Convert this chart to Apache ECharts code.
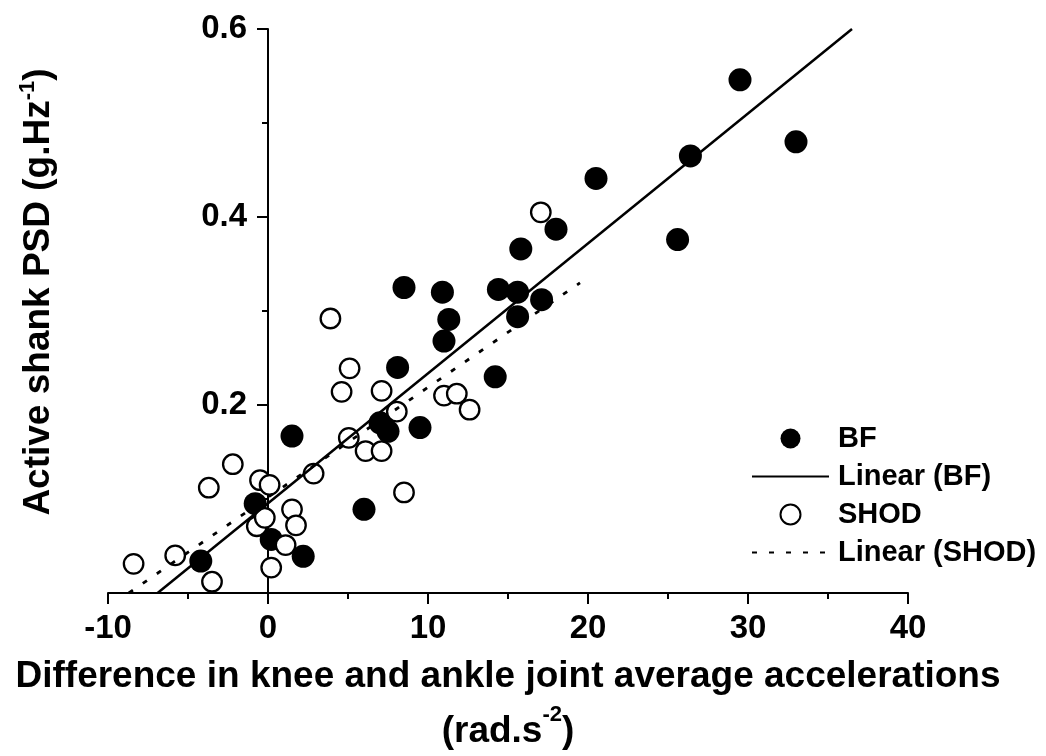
<!DOCTYPE html>
<html>
<head>
<meta charset="utf-8">
<script src="https://cdn.jsdelivr.net/npm/echarts@6/dist/echarts.min.js"></script>
<style>
  html, body { margin: 0; padding: 0; background: #fff; }
  #chart { width: 1046px; height: 756px; }
</style>
</head>
<body>
<div id="chart"></div>
<script>
// BF (barefoot) points - filled circles
const bfX = [-4.2, -0.8, 0.2, 2.2, 1.5, 6.0, 7.0, 7.5, 8.1, 9.5, 8.5, 10.9, 11.3, 11.0, 14.2, 14.4, 15.6, 15.6, 17.1, 15.8, 18.0, 20.5, 25.6, 26.4, 29.5, 33.0];
const bfY = [0.034, 0.095, 0.057, 0.039, 0.167, 0.089, 0.181, 0.172, 0.240, 0.176, 0.325, 0.320, 0.291, 0.268, 0.230, 0.323, 0.320, 0.294, 0.312, 0.366, 0.387, 0.441, 0.376, 0.465, 0.546, 0.480];

// SHOD points - open circles
const shodX = [-8.4, -5.8, -3.5, -3.7, -2.2, -0.5, 0.1, -0.7, -0.2, 1.5, 1.75, 1.1, 0.2, 2.85, 3.9, 4.6, 5.1, 5.05, 6.1, 7.1, 7.1, 8.05, 8.5, 11.0, 11.8, 12.6, 17.05];
const shodY = [0.031, 0.040, 0.012, 0.112, 0.137, 0.120, 0.115, 0.071, 0.080, 0.089, 0.072, 0.051, 0.027, 0.127, 0.292, 0.214, 0.239, 0.165, 0.151, 0.151, 0.215, 0.193, 0.107, 0.210, 0.212, 0.195, 0.405];

// trend lines (end points)
const bfFitX = [-6.9, 36.5];
const bfFitY = [0, 0.6];
const shodFitX = [-8.7, 19.5];
const shodFitY = [0, 0.33];

const FONT = "'Liberation Sans', Arial, sans-serif";
const noSymbol = { color: "rgba(0,0,0,0)", borderColor: "rgba(0,0,0,0)", borderWidth: 0 };

function pairs(xs, ys) {
  return xs.map((x, i) => [x, ys[i]]);
}

const chart = echarts.init(document.getElementById("chart"));
const option = {
  backgroundColor: "#fff",
  animation: false,
  textStyle: { fontFamily: FONT },
  grid: {
    left: 108,
    right: 138,
    top: 29,
    bottom: 163,
    containLabel: false,
    outerBoundsMode: "none",
  },
  legend: {
    orient: "vertical",
    left: 751,
    top: 424,
    padding: 0,
    itemWidth: 77,
    itemHeight: 20,
    itemGap: 9,
    data: [
      { name: "BF" },
      { name: "Linear (BF)", itemStyle: noSymbol },
      { name: "SHOD" },
      { name: "Linear (SHOD)", itemStyle: noSymbol },
    ],
    textStyle: {
      color: "#000",
      fontSize: 29,
      fontWeight: "bold",
      fontFamily: FONT,
      padding: [0, 0, 0, 4],
    },
  },
  xAxis: {
    type: "value",
    min: -10,
    max: 40,
    interval: 10,
    splitLine: { show: false },
    axisLine: { onZero: true, lineStyle: { color: "#000", width: 2 } },
    axisTick: { length: 11, lineStyle: { color: "#000", width: 2 } },
    minorTick: { show: true, splitNumber: 2, length: 6, lineStyle: { color: "#000", width: 2 } },
    axisLabel: {
      color: "#000",
      fontSize: 33,
      fontWeight: "bold",
      fontFamily: FONT,
      margin: 19,
    },
    name: "{t|Difference in knee and ankle joint average accelerations}\n{t|(rad.s}{s|-2}{t|)}",
    nameLocation: "middle",
    nameGap: 56,
    nameTextStyle: {
      rich: {
        t: { fontSize: 37, fontWeight: "bold", color: "#000", fontFamily: FONT, lineHeight: 55 },
        s: { fontSize: 22, fontWeight: "bold", color: "#000", fontFamily: FONT, lineHeight: 34, verticalAlign: "top" },
      },
    },
  },
  yAxis: {
    type: "value",
    min: 0,
    max: 0.6,
    interval: 0.2,
    splitLine: { show: false },
    axisLine: { show: true, onZero: true, lineStyle: { color: "#000", width: 2 } },
    axisTick: { show: true, length: 11, lineStyle: { color: "#000", width: 2 } },
    minorTick: { show: true, splitNumber: 2, length: 6, lineStyle: { color: "#000", width: 2 } },
    // labels stay at the grid edge, so the margin spans the gap up to x = 0
    axisLabel: {
      color: "#000",
      fontSize: 33,
      fontWeight: "bold",
      fontFamily: FONT,
      margin: -139,
      formatter: (v) => (v === 0 ? "" : v.toFixed(1)),
    },
    name: "{t|Active shank PSD (g.Hz}{s|-1}{t|)}",
    nameLocation: "middle",
    nameGap: 47,
    nameTextStyle: {
      padding: [0, 0, 0, 38],
      rich: {
        t: { fontSize: 37, fontWeight: "bold", color: "#000", fontFamily: FONT, lineHeight: 44 },
        s: { fontSize: 22, fontWeight: "bold", color: "#000", fontFamily: FONT, lineHeight: 28, verticalAlign: "top" },
      },
    },
  },
  series: [
    {
      name: "BF",
      type: "scatter",
      z: 2,
      symbol: "circle",
      symbolSize: 23,
      itemStyle: { color: "#000", opacity: 1 },
      data: pairs(bfX, bfY),
    },
    {
      name: "SHOD",
      type: "scatter",
      z: 3,
      symbol: "circle",
      symbolSize: 19.5,
      itemStyle: { color: "#fff", borderColor: "#000", borderWidth: 2.3, opacity: 1 },
      data: pairs(shodX, shodY),
    },
    {
      name: "Linear (BF)",
      type: "line",
      z: 4,
      symbol: "none",
      silent: true,
      color: "#000",
      lineStyle: { color: "#000", width: 2.5 },
      data: pairs(bfFitX, bfFitY),
    },
    {
      name: "Linear (SHOD)",
      type: "line",
      z: 4,
      symbol: "none",
      silent: true,
      color: "#000",
      lineStyle: { color: "#000", width: 2.8, type: [5, 12] },
      data: pairs(shodFitX, shodFitY),
    },
  ],
};
chart.setOption(option);
</script>
</body>
</html>
